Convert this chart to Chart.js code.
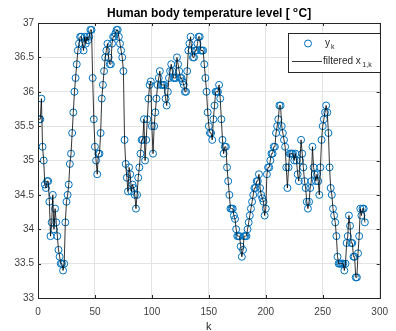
<!DOCTYPE html>
<html>
<head>
<meta charset="utf-8">
<script src="https://cdn.jsdelivr.net/npm/chart.js@4.4.1/dist/chart.umd.min.js"></script>
<style>
  html, body { margin: 0; padding: 0; background: #fff; }
  #wrap { width: 396px; height: 331px; }
</style>
</head>
<body>
<div id="wrap"><canvas id="chart" width="396" height="331"></canvas></div>
<script>
// measured temperature y_k, one value per sample k = 1..287
var temperature = [
  35.6, 35.6, 35.9, 35.2, 35.0, 34.65, 34.6, 34.7, 34.7, 34.4,
  33.9, 34.1, 34.5, 34.0, 34.3, 34.1, 33.9, 33.7, 33.6, 33.5,
  33.5, 33.4, 33.5, 34.1, 34.4, 34.5, 34.65, 34.95, 35.1, 35.4,
  35.7, 36.0, 36.2, 36.4, 36.6, 36.7, 36.8, 36.8, 36.7, 36.6,
  36.8, 36.7, 36.8, 36.75, 36.8, 36.9, 36.9, 36.2, 35.6, 35.2,
  35.0, 34.8, 35.1, 35.1, 35.4, 35.9, 36.1, 36.3, 36.5, 36.6,
  36.7, 36.5, 36.4, 36.4, 36.7, 36.8, 36.8, 36.85, 36.9, 36.9,
  36.8, 36.7, 36.6, 36.5, 36.3, 35.3, 34.95, 34.75, 34.55, 34.9,
  34.8, 34.55, 34.65, 34.6, 34.5, 34.3, 34.5, 34.75, 34.9, 35.1,
  35.3, 35.3, 35.6, 35.0, 35.3, 35.6, 35.9, 36.1, 36.15, 35.5,
  35.1, 35.5, 35.7, 35.9, 36.1, 36.2, 36.3, 36.1, 36.1, 36.1,
  36.1, 35.9, 35.8, 36.0, 36.2, 36.3, 36.4, 36.3, 36.2, 36.2,
  36.2, 36.5, 36.4, 36.3, 36.2, 36.2, 36.15, 36.1, 36.0, 36.0,
  36.3, 36.6, 36.7, 36.8, 36.6, 36.5, 36.5, 36.6, 36.6, 36.7,
  36.8, 36.8, 36.6, 36.6, 36.6, 36.4, 36.2, 36.0, 35.7, 35.5,
  35.4, 35.4, 35.3, 35.6, 35.8, 36.0, 36.0, 36.0, 36.1, 35.9,
  35.6, 35.3, 35.1, 35.2, 35.2, 34.9, 34.7, 34.5, 34.3, 34.3,
  34.3, 34.2, 34.15, 34.0, 33.9, 33.9, 33.9, 33.75, 33.6, 33.7,
  33.9, 33.9, 33.9, 34.0, 34.1, 34.2, 34.3, 34.4, 34.5, 34.6,
  34.6, 34.7, 34.7, 34.8, 34.6, 34.5, 34.45, 34.4, 34.2, 34.3,
  34.8, 34.9, 34.9, 35.0, 35.1, 35.1, 35.2, 35.2, 35.4, 35.5,
  35.6, 35.8, 35.8, 35.5, 35.4, 35.3, 35.2, 34.9, 34.6, 34.9,
  35.1, 35.1, 35.1, 35.1, 35.0, 35.1, 35.0, 34.8, 34.7, 35.0,
  35.3, 35.1, 34.9, 34.7, 34.6, 34.4, 34.3, 34.4, 34.6, 34.7,
  35.2, 34.9, 34.8, 34.7, 34.8, 34.7, 34.5, 34.9, 35.3, 35.5,
  35.6, 35.7, 35.8, 35.7, 35.4, 34.9, 34.6, 34.5, 34.3, 34.2,
  34.1, 33.9, 33.6, 33.5, 33.5, 33.5, 33.5, 33.5, 33.4, 33.5,
  33.8, 33.9, 34.2, 34.05, 33.8, 33.8, 33.6, 33.6, 33.3, 33.3,
  33.65, 33.9, 34.3, 34.2, 34.3, 34.3, 34.1
];
// filtered estimate x_{1,k} follows the measurements closely
var filtered = temperature.slice();

var xTicks = [0, 50, 100, 150, 200, 250, 300];
var yTicks = [33, 33.5, 34, 34.5, 35, 35.5, 36, 36.5, 37];

var titleText = 'Human body temperature level [ ';
var xLabel = 'k';

var measPoints = temperature.map(function(v, i) { return { x: i + 1, y: v }; });
var filtPoints = filtered.map(function(v, i) { return { x: i + 1, y: v }; });

var fontFamily = '"Liberation Sans", Arial, Helvetica, sans-serif';
var axisColor = '#262626';

// box around the axes, inner ticks, title, x label and legend
var matlabDecor = {
  id: 'matlabDecor',
  afterDraw: function(chart) {
    var ctx = chart.ctx;
    var a = chart.chartArea;
    var xs = chart.scales.x, ys = chart.scales.y;
    ctx.save();
    ctx.strokeStyle = axisColor;
    ctx.lineWidth = 1;
    ctx.strokeRect(Math.round(a.left) + 0.5, Math.round(a.top) + 0.5,
                   Math.round(a.right - a.left), Math.round(a.bottom - a.top));
    // tick marks inside
    ctx.beginPath();
    xTicks.forEach(function(t) {
      var px = Math.round(xs.getPixelForValue(t)) + 0.5;
      ctx.moveTo(px, a.bottom); ctx.lineTo(px, a.bottom - 3);
      ctx.moveTo(px, a.top); ctx.lineTo(px, a.top + 3);
    });
    yTicks.forEach(function(t) {
      var py = Math.round(ys.getPixelForValue(t)) + 0.5;
      ctx.moveTo(a.left, py); ctx.lineTo(a.left + 3, py);
      ctx.moveTo(a.right, py); ctx.lineTo(a.right - 3, py);
    });
    ctx.stroke();

    // title with superscript
    ctx.fillStyle = '#000';
    ctx.textBaseline = 'alphabetic';
    var bold = 'bold 12px ' + fontFamily;
    var boldSmall = 'bold 8px ' + fontFamily;
    ctx.font = bold;
    var w1 = ctx.measureText(titleText).width;
    ctx.font = boldSmall;
    var w2 = ctx.measureText('o').width;
    ctx.font = bold;
    var w3 = ctx.measureText('C]').width;
    var cx = (a.left + a.right) / 2;
    var tx = cx - (w1 + w2 + w3) / 2;
    var ty = 17;
    ctx.fillText(titleText, tx, ty);
    ctx.font = boldSmall;
    ctx.fillText('o', tx + w1, ty - 5);
    ctx.font = bold;
    ctx.fillText('C]', tx + w1 + w2 + 0.5, ty);

    // x label
    ctx.font = '11px ' + fontFamily;
    ctx.fillStyle = axisColor;
    ctx.textAlign = 'center';
    ctx.fillText(xLabel, cx, 330);
    ctx.textAlign = 'left';

    // legend
    var lx = 288, ly = 33, lw = 92, lh = 39;
    ctx.fillStyle = '#fff';
    ctx.fillRect(lx, ly, lw, lh);
    ctx.strokeStyle = axisColor;
    ctx.lineWidth = 1;
    ctx.strokeRect(lx + 0.5, ly + 0.5, lw, lh);
    ctx.strokeStyle = '#0072BD';
    ctx.beginPath();
    ctx.arc(308, 43.5, 3.5, 0, Math.PI * 2);
    ctx.stroke();
    ctx.strokeStyle = '#000';
    ctx.lineWidth = 0.8;
    ctx.beginPath();
    ctx.moveTo(292, 61.5); ctx.lineTo(322, 61.5);
    ctx.stroke();
    ctx.fillStyle = '#262626';
    ctx.font = '10px ' + fontFamily;
    ctx.fillText('y', 325, 46);
    ctx.fillText('filtered x', 323, 64);
    var fw = ctx.measureText('filtered x').width;
    ctx.font = '7px ' + fontFamily;
    ctx.fillText('k', 331, 49);
    ctx.fillText('1,k', 323 + fw + 1.5, 67);
    ctx.restore();
  }
};

var ctx = document.getElementById('chart').getContext('2d');
var tempChart = new Chart(ctx, {
  type: 'line',
  data: {
    datasets: [{
      label: 'filtered x1,k',
      data: filtPoints,
      borderColor: '#000000',
      borderWidth: 0.8,
      pointRadius: 0,
      tension: 0,
      fill: false,
      order: 0
    }, {
      label: 'yk',
      data: measPoints,
      showLine: false,
      borderColor: '#0072BD',
      backgroundColor: 'rgba(0,0,0,0)',
      pointStyle: 'circle',
      pointRadius: 3.5,
      pointBorderWidth: 1,
      order: 1
    }]
  },
  options: {
    responsive: false,
    animation: false,
    devicePixelRatio: 1,
    layout: { padding: { top: 23, right: 9, left: 0, bottom: 0 } },
    plugins: {
      legend: { display: false },
      title: { display: false },
      tooltip: { enabled: false }
    },
    scales: {
      x: {
        type: 'linear',
        min: 0,
        max: 300,
        afterBuildTicks: function(s) { s.ticks = xTicks.map(function(v) { return { value: v }; }); },
        afterFit: function(s) { s.height = 33; },
        grid: { color: '#e3e3e3', drawTicks: false },
        border: { display: false },
        ticks: {
          color: '#404040', font: { size: 10, family: fontFamily }, padding: 8, maxRotation: 0,
          callback: function(v) { return String(v); }
        }
      },
      y: {
        min: 33,
        max: 37,
        afterBuildTicks: function(s) { s.ticks = yTicks.map(function(v) { return { value: v }; }); },
        afterFit: function(s) { s.width = 38; },
        grid: { color: '#e3e3e3', drawTicks: false },
        border: { display: false },
        ticks: {
          color: '#404040', font: { size: 10, family: fontFamily }, padding: 4,
          callback: function(v) { return String(v); }
        }
      }
    }
  },
  plugins: [matlabDecor]
});
</script>
</body>
</html>
